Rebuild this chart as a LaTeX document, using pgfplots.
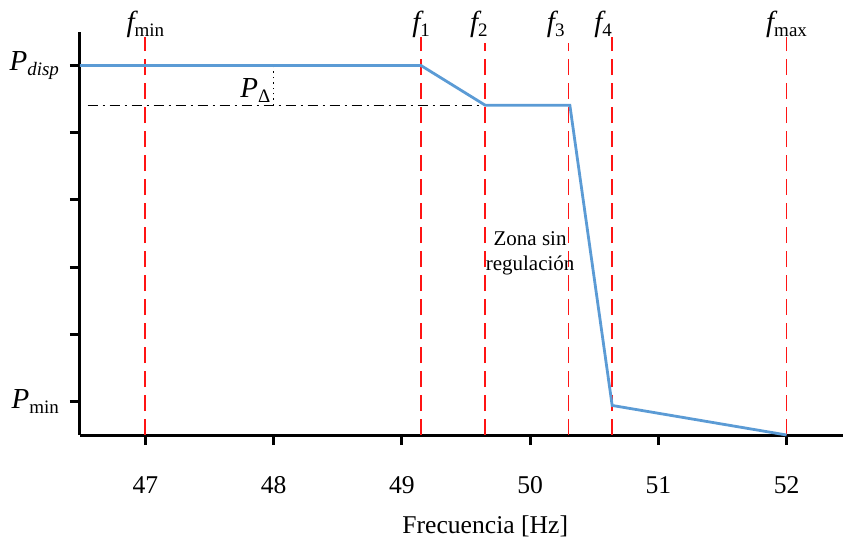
\documentclass[border=0pt]{standalone}
\usepackage{fontspec}
\setmainfont{Liberation Serif}
\usepackage{pgfplots}
\pgfplotsset{compat=1.18}
\definecolor{lineblue}{RGB}{91,155,213}
\definecolor{dashred}{RGB}{255,20,20}
\newcommand{\lbl}[2]{{\fontsize{14.5}{14.5}\selectfont\itshape #1}\raisebox{-0.55ex}{\fontsize{9.5}{9.5}\selectfont #2}}
\begin{document}
\begin{tikzpicture}
\path[use as bounding box] (-40pt,-53.5pt) rectangle (381.5pt,217.5pt);
\begin{axis}[
  at={(0,0)}, anchor=south west,
  scale only axis, width=381.5pt, height=201.5pt,
  xmin=46.49, xmax=52.44, ymin=-0.5, ymax=5.5,
  axis x line*=bottom, axis y line*=left,
  axis line style={line width=1.5pt},
  tick align=outside,
  major tick length=5pt,
  tick style={line width=1.5pt, black},
  xtick={47,48,49,50,51,52},
  ytick={0,1,2,3,4,5},
  yticklabels={\lbl{P}{min},,,,,\lbl{P}{\itshape disp}},
  xticklabel style={font=\fontsize{12.8}{15}\selectfont, anchor=base, yshift=-24pt},
  yticklabel style={anchor=east, xshift=-2pt},
  /pgf/number format/assume math mode=true,
  clip=false,
]
% vertical red dashed lines
\addplot[dashred, line width=0.9pt, dash pattern=on 8pt off 4pt] coordinates {(47,-0.5) (47,5.42)};
\addplot[dashred, line width=0.9pt, dash pattern=on 8pt off 4pt] coordinates {(49.15,-0.5) (49.15,5.42)};
\addplot[dashred, line width=0.9pt, dash pattern=on 8pt off 4pt] coordinates {(49.65,-0.5) (49.65,5.33)};
\addplot[dashred, line width=0.9pt, dash pattern=on 8pt off 4pt] coordinates {(50.30,-0.5) (50.30,5.33)};
\addplot[dashred, line width=0.9pt, dash pattern=on 8pt off 4pt] coordinates {(50.64,-0.5) (50.64,5.42)};
\addplot[dashred, line width=0.9pt, dash pattern=on 8pt off 4pt] coordinates {(52,-0.5) (52,5.42)};
% dash-dot reference level
\addplot[black, line width=0.6pt, dash pattern=on 5pt off 2.5pt on 1pt off 2.5pt] coordinates {(46.55,4.41) (49.65,4.41)};
% dotted P_delta marker
\addplot[black, line width=0.7pt, dotted] coordinates {(48,4.41) (48,5)};
% characteristic
\addplot[lineblue, line width=1.4pt] coordinates {(46.49,5) (49.15,5) (49.65,4.41) (50.31,4.41) (50.64,-0.06) (52,-0.5)};
% labels
\node[anchor=base] at (axis cs:47,5.51) {\lbl{f}{min}};
\node[anchor=base] at (axis cs:49.15,5.51) {\lbl{f}{1}};
\node[anchor=base] at (axis cs:49.6,5.51) {\lbl{f}{2}};
\node[anchor=base] at (axis cs:50.2,5.51) {\lbl{f}{3}};
\node[anchor=base] at (axis cs:50.57,5.51) {\lbl{f}{4}};
\node[anchor=base] at (axis cs:52,5.51) {\lbl{f}{max}};
\node[anchor=base east, inner sep=0pt, xshift=-1.5pt] at (axis cs:48,4.52) {\lbl{P}{Δ}};
\node[align=center, font=\fontsize{10.5}{12.5}\selectfont] at (axis cs:50.0,2.21) {Zona sin\\regulación};
\node[anchor=base, font=\fontsize{12.8}{15}\selectfont, yshift=-49pt] at (axis cs:49.65,-0.5) {Frecuencia [Hz]};
\end{axis}
\end{tikzpicture}
\end{document}
